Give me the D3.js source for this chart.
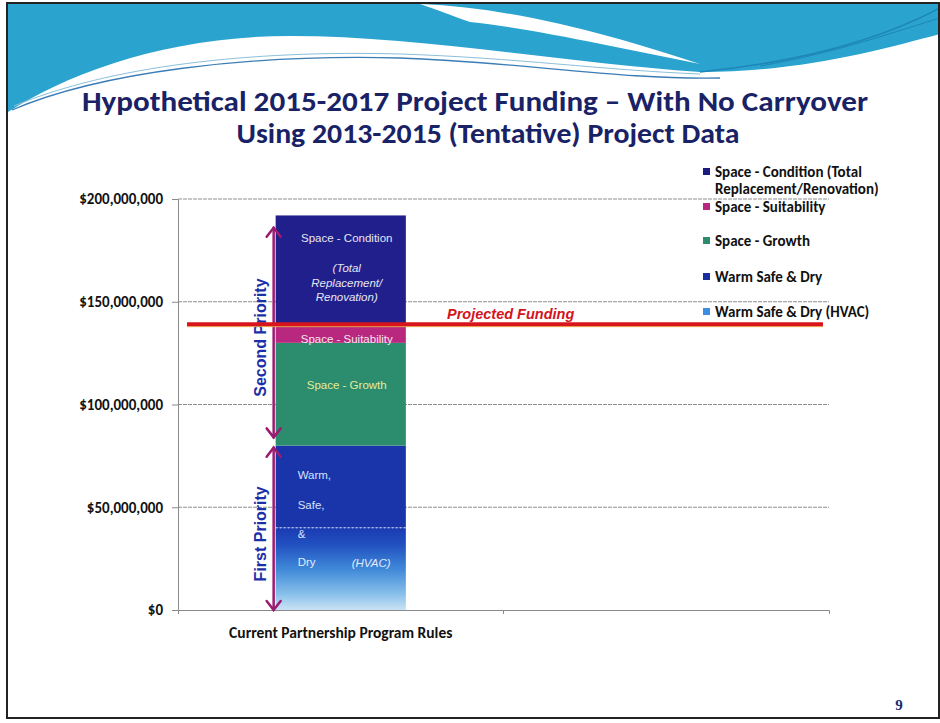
<!DOCTYPE html>
<html>
<head>
<meta charset="utf-8">
<script src="https://cdn.jsdelivr.net/npm/d3@7"></script>
<style>
  body { margin: 0; background: #fff; }
  svg text { font-family: Carlito, Lato, "Open Sans", sans-serif; }
  svg text.arial { font-family: "Liberation Sans", Arial, sans-serif; }
</style>
</head>
<body>
<svg width="940" height="723"></svg>
<script>
// chart values
var categories = ["Current Partnership Program Rules", ""];
var seriesNames = ["Warm Safe & Dry (HVAC)", "Warm Safe & Dry", "Space - Growth", "Space - Suitability", "Space - Condition (Total Replacement/Renovation)"];
var seriesValues = [40000000, 40000000, 50000000, 8000000, 54000000];
var seriesColors = ["url(#hvacGrad)", "#1a35aa", "#2b8d6d", "#b8287e", "#201f8b"];
var legendColors = ["#3d8ee0", "#1a2f9e", "#2b8d6d", "#b8287e", "#1c1c80"];
var projectedFunding = 139000000;
var yTicks = [0, 50000000, 100000000, 150000000, 200000000];
var firstPriority = [0, 79000000];
var secondPriority = [84000000, 186000000];

var svg = d3.select("svg");

// gradient for the HVAC segment
var defs = svg.append("defs");
var grad = defs.append("linearGradient")
    .attr("id", "hvacGrad")
    .attr("x1", 0).attr("y1", 0).attr("x2", 0).attr("y2", 1);
grad.append("stop").attr("offset", "0").attr("stop-color", "#1b3ab2");
grad.append("stop").attr("offset", "0.2").attr("stop-color", "#2150c0");
grad.append("stop").attr("offset", "0.5").attr("stop-color", "#3f88d8");
grad.append("stop").attr("offset", "0.8").attr("stop-color", "#86bfea");
grad.append("stop").attr("offset", "1").attr("stop-color", "#cbe3f4");

// slide decoration (blue wave at the top, frame)
var deco = svg.append("g");
deco.append("path")
    .attr("d", "M8,4 H940 V34 C880,50 800,72 700,72 C560,62 420,36 290,36 C170,36 70,72 8,112 Z")
    .attr("fill", "#2ba3cf");
deco.append("path")
    .attr("d", "M420,4 C520,8 620,38 700,64 C620,48 530,28 470,22 C450,15 435,9 420,4 Z")
    .attr("fill", "#fff");
deco.append("path")
    .attr("d", "M12,110 C100,72 250,54 400,58 C520,62 620,80 720,78")
    .attr("fill", "none").attr("stroke", "#3b7db6").attr("stroke-width", 1.3);
deco.append("path")
    .attr("d", "M14,106 C110,66 250,50 400,54 C520,58 600,70 700,74")
    .attr("fill", "none").attr("stroke", "#8bbfdc").attr("stroke-width", 1);
deco.append("path")
    .attr("d", "M700,72 C800,62 880,40 940,8")
    .attr("fill", "none").attr("stroke", "#1d86b8").attr("stroke-width", 1.5);
deco.append("path")
    .attr("d", "M760,66 C840,52 900,30 940,18")
    .attr("fill", "none").attr("stroke", "#1d86b8").attr("stroke-width", 1);
deco.append("rect")
    .attr("x", 7).attr("y", 3).attr("width", 932).attr("height", 715)
    .attr("fill", "none").attr("stroke", "#222").attr("stroke-width", 2);

// title
var titleColor = "#1a2266";
svg.append("text")
    .attr("x", 475).attr("y", 111)
    .attr("text-anchor", "middle")
    .attr("font-size", 28).attr("font-weight", "bold")
    .attr("fill", titleColor)
    .attr("textLength", 786).attr("lengthAdjust", "spacingAndGlyphs")
    .text("Hypothetical 2015-2017 Project Funding \u2013 With No Carryover");
svg.append("text")
    .attr("x", 488).attr("y", 143)
    .attr("text-anchor", "middle")
    .attr("font-size", 28).attr("font-weight", "bold")
    .attr("fill", titleColor)
    .attr("textLength", 503).attr("lengthAdjust", "spacingAndGlyphs")
    .text("Using 2013-2015 (Tentative) Project Data");

// scales
var x = d3.scaleBand().domain(categories).range([178, 829])
    .paddingInner(0.6).paddingOuter(0.3);
var y = d3.scaleLinear().domain([0, 200000000]).range([610, 199]);

// gridlines
svg.append("g").selectAll("line")
    .data(yTicks.slice(1))
    .enter().append("line")
    .attr("x1", 178).attr("x2", 829)
    .attr("y1", function(d) { return y(d); })
    .attr("y2", function(d) { return y(d); })
    .attr("stroke", "#8e8e8e").attr("stroke-width", 1)
    .attr("stroke-dasharray", "4,1");

// y axis
var yAxis = svg.append("g")
    .attr("transform", "translate(178,0)")
    .call(d3.axisLeft(y).tickValues(yTicks).tickFormat(d3.format("$,")).tickSize(6).tickSizeOuter(0));
yAxis.select(".domain").attr("stroke", "#8a8a8a");
yAxis.selectAll(".tick line").attr("stroke", "#8a8a8a");
yAxis.selectAll(".tick text")
    .attr("x", -15)
    .attr("font-size", 15).attr("font-weight", "bold")
    .attr("fill", "#111")
    .style("font-family", "Carlito, Lato, sans-serif");

// x axis
var xAxis = svg.append("g")
    .attr("transform", "translate(0,610)")
    .call(d3.axisBottom(x).tickSizeInner(0).tickSizeOuter(4).tickPadding(17));
xAxis.select(".domain").attr("stroke", "#8a8a8a");
xAxis.selectAll(".tick text")
    .attr("font-size", 15.5).attr("font-weight", "bold")
    .attr("fill", "#111")
    .style("font-family", "Carlito, Lato, sans-serif");
// boundary tick between the categories
xAxis.append("line")
    .attr("x1", x(categories[1]) - x.step() * x.paddingInner() / 2)
    .attr("x2", x(categories[1]) - x.step() * x.paddingInner() / 2)
    .attr("y1", 0).attr("y2", 4)
    .attr("stroke", "#8a8a8a");

// stacked segments
var ends = d3.cumsum(seriesValues);
var segments = seriesValues.map(function(v, i) {
    return { name: seriesNames[i], y0: ends[i] - v, y1: ends[i], color: seriesColors[i] };
});
var bx = x(categories[0]), bw = x.bandwidth();

svg.append("g").selectAll("rect")
    .data(segments)
    .enter().append("rect")
    .attr("x", bx)
    .attr("width", bw)
    .attr("y", function(d) { return y(d.y1); })
    .attr("height", function(d) { return y(d.y0) - y(d.y1); })
    .attr("fill", function(d) { return d.color; });

// dashed boundary between the two warm safe & dry parts
svg.append("line")
    .attr("x1", bx).attr("x2", bx + bw)
    .attr("y1", y(segments[0].y1)).attr("y2", y(segments[0].y1))
    .attr("stroke", "#d8e6ff").attr("stroke-width", 1)
    .attr("stroke-dasharray", "2,2");

// labels inside the bar
var labels = svg.append("g").attr("font-size", 11.5);
function inLabel(tx, ty, txt, fill, italic, anchor) {
    labels.append("text")
        .attr("class", "arial")
        .attr("x", tx).attr("y", ty)
        .attr("text-anchor", anchor || "middle")
        .attr("dominant-baseline", "central")
        .attr("fill", fill)
        .attr("font-style", italic ? "italic" : "normal")
        .text(txt);
}
var cx = bx + bw / 2 + 6;
var cond = segments[4], suit = segments[3], grow = segments[2], wsd = segments[1], hvac = segments[0];
inLabel(cx, y(cond.y1) + 23, "Space - Condition", "#e6e6f2");
inLabel(cx, y(cond.y1) + 53, "(Total", "#e6e6f2", true);
inLabel(cx, y(cond.y1) + 68, "Replacement/", "#e6e6f2", true);
inLabel(cx, y(cond.y1) + 82, "Renovation)", "#e6e6f2", true);
inLabel(cx, y((suit.y0 + suit.y1) / 2) + 4, "Space - Suitability", "#f4e6f0");
inLabel(cx, y((grow.y0 + grow.y1) / 2) - 9, "Space - Growth", "#e4ec98");
inLabel(bx + 22, y(wsd.y1) + 29, "Warm,", "#d6e2ff", false, "start");
inLabel(bx + 22, y(wsd.y1) + 59, "Safe,", "#d6e2ff", false, "start");
inLabel(bx + 22, y(hvac.y1) + 6, "&", "#d6e2ff", false, "start");
inLabel(bx + 22, y(hvac.y1) + 34, "Dry", "#e2ecff", false, "start");
inLabel(bx + 76, y(hvac.y1) + 35, "(HVAC)", "#e2ecff", true, "start");

// priority arrows
var arrowColor = "#9b1b70";
var ax = bx - 2;
function priorityArrow(range, label) {
    var top = y(range[1]), bottom = y(range[0]);
    var g = svg.append("g").attr("stroke", arrowColor).attr("stroke-width", 2.5)
        .attr("fill", "none").attr("stroke-linecap", "round");
    g.append("line").attr("x1", ax).attr("x2", ax).attr("y1", top).attr("y2", bottom);
    g.append("polyline").attr("points", [[ax - 7, top + 9], [ax, top], [ax + 7, top + 9]].join(" "));
    g.append("polyline").attr("points", [[ax - 7, bottom - 9], [ax, bottom], [ax + 7, bottom - 9]].join(" "));
    var my = (top + bottom) / 2 + 5;
    svg.append("text")
        .attr("class", "arial")
        .attr("transform", "translate(" + (ax - 8) + "," + my + ") rotate(-90)")
        .attr("text-anchor", "middle")
        .attr("font-size", 16).attr("font-weight", "bold")
        .attr("fill", "#1b2fa8")
        .text(label);
}
priorityArrow(secondPriority, "Second Priority");
priorityArrow(firstPriority, "First Priority");

// projected funding line
svg.append("line")
    .attr("x1", 187).attr("x2", 823)
    .attr("y1", y(projectedFunding) + 2.3).attr("y2", y(projectedFunding) + 2.3)
    .attr("stroke", "#f2c050").attr("stroke-width", 1);
svg.append("line")
    .attr("x1", 187).attr("x2", 823)
    .attr("y1", y(projectedFunding)).attr("y2", y(projectedFunding))
    .attr("stroke", "#d8141c").attr("stroke-width", 4);
svg.append("text")
    .attr("class", "arial")
    .attr("x", 447).attr("y", y(projectedFunding) - 5)
    .attr("font-size", 14.5).attr("font-weight", "bold").attr("font-style", "italic")
    .attr("fill", "#d2141c")
    .text("Projected Funding");

// legend
var legendNames = seriesNames.slice().reverse();
var legendCols = legendColors.slice().reverse();
var legendY = [172, 207, 241, 277, 312];
var legend = svg.append("g");
legendNames.forEach(function(name, i) {
    var ly = legendY[i];
    legend.append("rect")
        .attr("x", 703).attr("y", ly - 4).attr("width", 7).attr("height", 7)
        .attr("fill", legendCols[i]);
    var t = legend.append("text")
        .attr("x", 715).attr("y", ly)
        .attr("dominant-baseline", "central")
        .attr("font-size", 15).attr("font-weight", "bold")
        .attr("fill", "#111");
    if (i === 0) {
        t.append("tspan").attr("x", 715).text("Space - Condition (Total");
        t.append("tspan").attr("x", 715).attr("dy", 17).text("Replacement/Renovation)");
    } else {
        t.text(name);
    }
});

// page number
svg.append("text")
    .attr("x", 899).attr("y", 710)
    .attr("text-anchor", "middle")
    .attr("font-size", 15).attr("font-weight", "bold")
    .attr("fill", "#1b2a6a")
    .style("font-family", "'Liberation Serif', 'DejaVu Serif', serif")
    .text("9");
</script>
</body>
</html>
